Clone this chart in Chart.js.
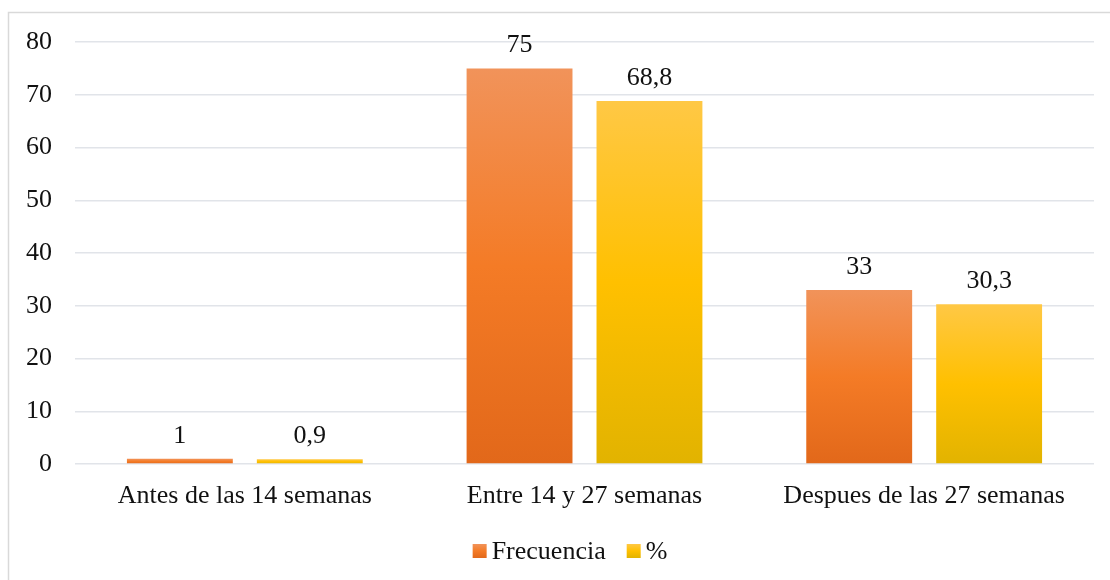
<!DOCTYPE html>
<html><head><meta charset="utf-8">
<script src="https://cdn.jsdelivr.net/npm/chart.js@4/dist/chart.umd.min.js"></script>
<style>html,body{margin:0;padding:0;background:#fff;}#wrap{width:1110px;height:580px;position:relative;}</style>
</head><body><div id="wrap"><canvas id="c" width="1110" height="580"></canvas></div>
<script>
const categories = ["Antes de las 14 semanas", "Entre 14 y 27 semanas", "Despues de las 27 semanas"];
const frecuencia = [1, 75, 33];
const porcentaje = [0.9, 68.8, 30.3];
const seriesNames = ["Frecuencia", "%"];
const yTicks = [0, 10, 20, 30, 40, 50, 60, 70, 80];

const FONT = "'Liberation Serif', 'Times New Roman', serif";
const FS = 26;
const palettes = [
  ["#F1935A", "#F47B26", "#E2681A"],
  ["#FFC845", "#FFC000", "#E2B300"]
];
function gradFor(c, pal, top, bottom) {
  const g = c.createLinearGradient(0, top, 0, bottom);
  g.addColorStop(0, pal[0]);
  g.addColorStop(0.5, pal[1]);
  g.addColorStop(1, pal[2]);
  return g;
}
function barFill(ctx) {
  const chart = ctx.chart;
  const pal = palettes[ctx.datasetIndex];
  if (!chart.chartArea || !chart.scales.y || ctx.raw === undefined) return pal[1];
  const y = chart.scales.y;
  const top = y.getPixelForValue(ctx.raw);
  const bottom = y.getPixelForValue(0);
  if (!isFinite(top) || !isFinite(bottom) || bottom - top < 1) return pal[1];
  return gradFor(chart.ctx, pal, top, bottom);
}

const borderPlugin = {
  id: 'outerBorder',
  beforeDraw(chart) {
    const c = chart.ctx;
    c.save();
    c.strokeStyle = '#D9D9D9';
    c.lineWidth = 1.5;
    c.strokeRect(8.5, 12.5, 1110, 600);
    c.restore();
  }
};
const labelPlugin = {
  id: 'valueLabels',
  afterDatasetsDraw(chart) {
    const c = chart.ctx;
    c.save();
    c.font = FS + "px " + FONT;
    c.fillStyle = '#111';
    c.textAlign = 'center';
    c.textBaseline = 'middle';
    chart.data.datasets.forEach((ds, di) => {
      chart.getDatasetMeta(di).data.forEach((bar, i) => {
        const v = ds.data[i];
        c.fillText(String(v).replace('.', ','), bar.x, bar.y - 23);
      });
    });
    c.restore();
  }
};
const legendPlugin = {
  id: 'customLegend',
  afterDraw(chart) {
    const c = chart.ctx;
    c.save();
    c.font = FS + "px " + FONT;
    c.textBaseline = 'middle';
    c.textAlign = 'left';
    const box = 14, gapBox = 5, gapItem = 21;
    const items = chart.data.datasets.map(d => d.label);
    const widths = items.map(t => box + gapBox + c.measureText(t).width);
    const total = widths.reduce((a, b) => a + b, 0) + gapItem * (items.length - 1);
    let x = 570 - total / 2;
    const cy = 551;
    items.forEach((t, i) => {
      c.fillStyle = gradFor(c, palettes[i], cy - box / 2, cy + box / 2);
      c.fillRect(x, cy - box / 2, box, box);
      c.fillStyle = '#111';
      c.fillText(t, x + box + gapBox, cy + 1);
      x += widths[i] + gapItem;
    });
    c.restore();
  }
};

new Chart(document.getElementById('c'), {
  type: 'bar',
  data: {
    labels: categories,
    datasets: [
      { label: seriesNames[0], data: frecuencia, backgroundColor: barFill, borderWidth: 0 },
      { label: seriesNames[1], data: porcentaje, backgroundColor: barFill, borderWidth: 0 }
    ]
  },
  options: {
    responsive: false,
    animation: false,
    devicePixelRatio: 1,
    categoryPercentage: 0.765,
    barPercentage: 0.815,
    layout: { padding: { left: 0, right: 16, top: 42, bottom: 49 } },
    plugins: {
      legend: { display: false },
      tooltip: { enabled: false }
    },
    scales: {
      x: {
        grid: { display: false, drawTicks: false },
        border: { display: false },
        ticks: { font: { family: FONT, size: FS }, color: '#111', padding: 17, maxRotation: 0 },
        afterFit(s) { s.height = 67; }
      },
      y: {
        min: 0, max: 80,
        afterBuildTicks(s) { s.ticks = yTicks.map(v => ({ value: v })); },
        grid: { color: '#E1E4E9', lineWidth: 1.5, drawTicks: false },
        border: { display: false },
        ticks: { font: { family: FONT, size: FS }, color: '#111', padding: 23 },
        afterFit(s) { s.width = 75; }
      }
    }
  },
  plugins: [borderPlugin, labelPlugin, legendPlugin]
});
</script></body></html>
